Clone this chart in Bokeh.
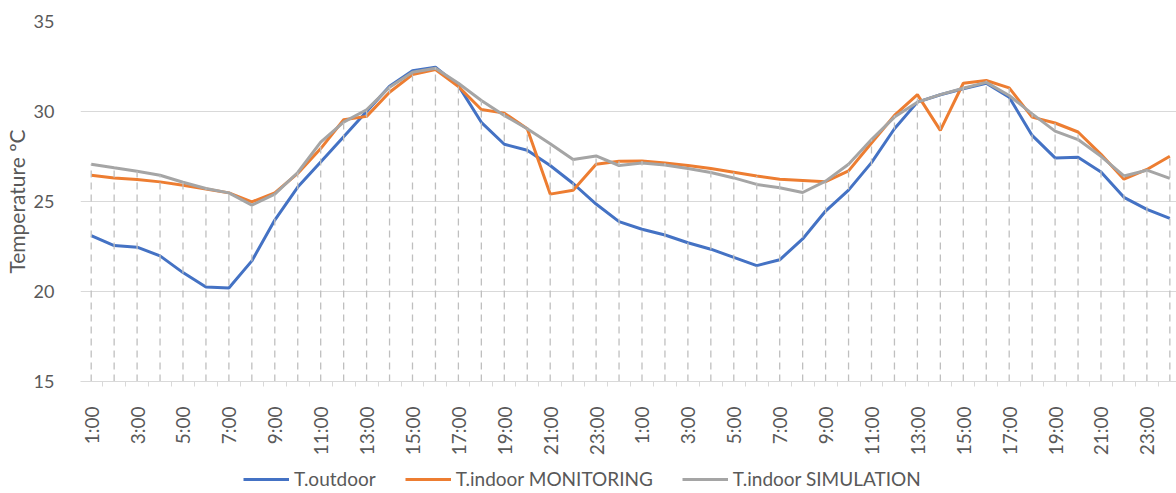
from bokeh.plotting import figure
from bokeh.layouts import column
from bokeh.models import (FixedTicker, Legend, LegendItem, ColumnDataSource, Range1d)
from bokeh.embed import file_html
from bokeh.resources import INLINE

hours = [f"{h}:00" for h in range(1, 25)] * 2

t_outdoor = [23.1, 22.55, 22.46, 21.98, 21.05, 20.25, 20.19, 21.7, 23.97, 25.8,
             27.2, 28.6, 30.0, 31.4, 32.27, 32.46, 31.44, 29.4, 28.18, 27.85,
             27.0, 26.0, 24.86, 23.88, 23.46, 23.14, 22.71, 22.35, 21.9, 21.44,
             21.76, 22.92, 24.47, 25.63, 27.16, 29.04, 30.52, 30.93, 31.26, 31.57,
             30.79, 28.67, 27.42, 27.46, 26.64, 25.23, 24.56, 24.06]
t_monitoring = [26.46, 26.31, 26.22, 26.09, 25.9, 25.7, 25.48, 24.98, 25.48, 26.56,
                27.94, 29.54, 29.73, 31.07, 32.05, 32.33, 31.39, 30.11, 29.91, 29.04,
                25.41, 25.63, 27.07, 27.24, 27.25, 27.14, 27.0, 26.83, 26.63, 26.42,
                26.24, 26.17, 26.1, 26.7, 28.25, 29.78, 30.94, 28.95, 31.57, 31.72,
                31.31, 29.69, 29.36, 28.86, 27.62, 26.24, 26.78, 27.51]
t_simulation = [27.07, 26.87, 26.68, 26.46, 26.07, 25.72, 25.48, 24.8, 25.41, 26.61,
                28.3, 29.41, 30.1, 31.35, 32.18, 32.4, 31.57, 30.61, 29.78, 29.04,
                28.21, 27.33, 27.53, 27.0, 27.14, 27.03, 26.83, 26.61, 26.31, 25.95,
                25.76, 25.5, 26.13, 27.07, 28.44, 29.69, 30.52, 30.94, 31.29, 31.62,
                30.89, 29.87, 28.91, 28.44, 27.51, 26.42, 26.74, 26.28]

y_ticks = [15, 20, 25, 30, 35]
series_names = ["T.outdoor", "T.indoor MONITORING", "T.indoor SIMULATION"]
series_colors = ["#4472C4", "#ED7D31", "#A5A5A5"]

FONT = "Lato"
TXT = "#595959"

n = len(hours)
xs = list(range(n))

p = figure(width=1176, height=467, output_backend="svg", toolbar_location=None,
           x_range=Range1d(-0.466, 47.29), y_range=Range1d(15, 35),
           min_border_left=80, min_border_right=0, min_border_top=21,
           min_border_bottom=86,
           background_fill_color="white", border_fill_color="white")
p.outline_line_color = None

# grid
p.xgrid.grid_line_color = None
p.ygrid.grid_line_color = "#d9d9d9"
p.ygrid.grid_line_width = 1
p.ygrid.ticker = FixedTicker(ticks=y_ticks)

# y axis
p.yaxis.ticker = FixedTicker(ticks=y_ticks)
p.yaxis.axis_line_color = None
p.yaxis.major_tick_line_color = None
p.yaxis.minor_tick_line_color = None
p.yaxis.major_label_text_font = FONT
p.yaxis.major_label_text_font_size = "18px"
p.yaxis.major_label_text_color = TXT
p.yaxis.major_label_standoff = 20
p.yaxis.axis_label = "Temperature ºC"
p.yaxis.axis_label_text_font = FONT
p.yaxis.axis_label_text_font_size = "21px"
p.yaxis.axis_label_text_font_style = "normal"
p.yaxis.axis_label_text_color = TXT
p.yaxis.axis_label_standoff = 2

# x axis
label_pos = xs[::2]
p.xaxis.ticker = FixedTicker(ticks=label_pos, minor_ticks=[i + 0.5 for i in range(-1, n)])
p.xaxis.major_label_overrides = {i: hours[i] for i in label_pos}
p.xaxis.major_label_orientation = 1.5707963
p.xaxis.major_label_text_font = FONT
p.xaxis.major_label_text_font_size = "19px"
p.xaxis.major_label_text_color = TXT
p.xaxis.major_label_standoff = 19
p.xaxis.major_tick_line_color = None
p.xaxis.axis_line_color = "#d9d9d9"
p.xaxis.minor_tick_line_color = "#d9d9d9"
p.xaxis.minor_tick_out = 5
p.xaxis.minor_tick_in = 0

# series
for vals, col in zip([t_outdoor, t_monitoring, t_simulation], series_colors):
    p.line(xs, vals, line_color=col, line_width=3)

# drop lines
tops = [max(a, b, c) for a, b, c in zip(t_outdoor, t_monitoring, t_simulation)]
src = ColumnDataSource(dict(x=xs, y0=[15] * n, y1=tops))
p.segment(x0="x", y0="y0", x1="x", y1="y1", source=src,
          line_color="#bfbfbf", line_width=1.3, line_dash="7 5")

# legend strip
lg = figure(width=1176, height=26, output_backend="svg", toolbar_location=None,
            x_range=Range1d(0, 1), y_range=Range1d(0, 1),
            min_border_left=80, min_border_right=0, min_border_top=0, min_border_bottom=0,
            background_fill_color="white", border_fill_color="white")
lg.outline_line_color = None
lg.axis.visible = False
lg.grid.visible = False
items = []
for name, col in zip(series_names, series_colors):
    r = lg.line([-10, -9], [-10, -10], line_color=col, line_width=3)
    items.append(LegendItem(label=name, renderers=[r]))
legend = Legend(items=items, orientation="horizontal", location=(163, 3))
legend.label_text_font = FONT
legend.label_text_font_size = "19px"
legend.label_text_color = TXT
legend.glyph_width = 46
legend.glyph_height = 20
legend.label_height = 20
legend.label_standoff = 5
legend.spacing = 29
legend.border_line_color = None
legend.background_fill_alpha = 0
legend.margin = 0
legend.padding = 0
lg.add_layout(legend)

layout = column(p, lg, spacing=0)
open("out.html", "w").write(file_html(layout, INLINE))
